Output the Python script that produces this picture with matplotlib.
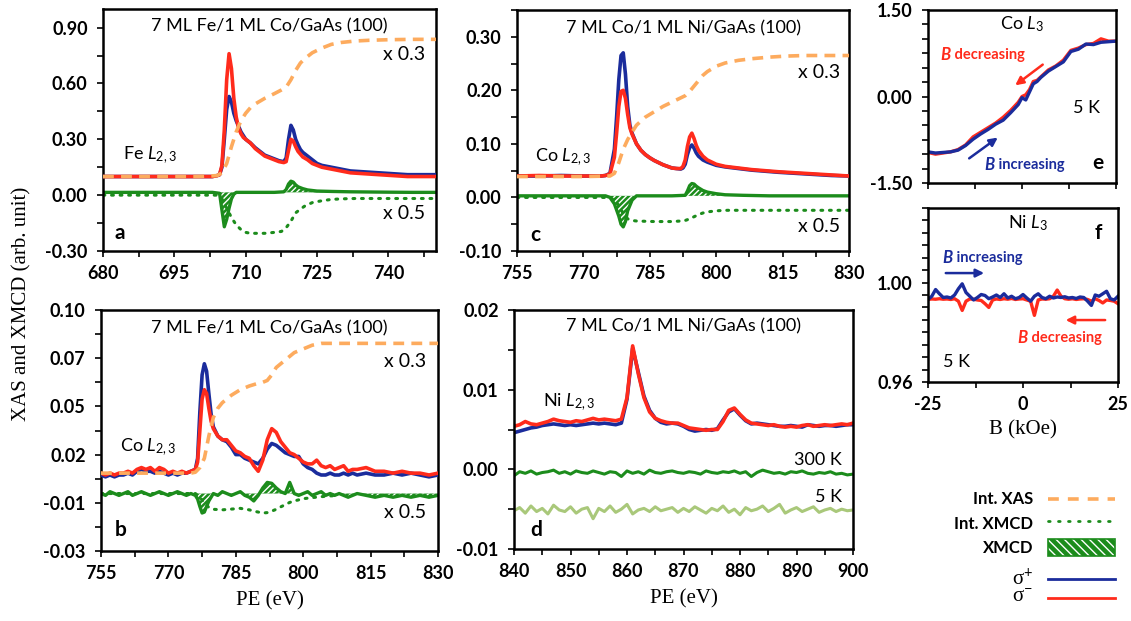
import matplotlib
matplotlib.use('Agg')
import matplotlib.pyplot as plt
import matplotlib.patches as mpatches
from matplotlib.ticker import FixedLocator

# ---- panel a : Fe L2,3 (7 ML Fe / 1 ML Co / GaAs)
a_pe = [680, 684, 688, 692, 696, 700, 703, 704, 704.5, 705, 705.5, 706, 706.5, 707, 707.5, 708, 708.5, 709, 709.5,
        710, 711, 712, 713, 714, 715, 716, 717, 718, 718.5, 719, 719.5, 720, 720.5, 721, 721.5, 722, 723, 724, 725,
        726, 728, 730, 732, 735, 738, 741, 744, 747, 750]
a_sigma_plus = [0.10, 0.10, 0.10, 0.10, 0.10, 0.10, 0.10, 0.105, 0.11, 0.15, 0.30, 0.46, 0.53, 0.50, 0.44, 0.40, 0.37,
                0.34, 0.32, 0.30, 0.28, 0.255, 0.235, 0.215, 0.205, 0.195, 0.185, 0.18, 0.20, 0.30, 0.375, 0.35, 0.30,
                0.27, 0.245, 0.23, 0.21, 0.19, 0.17, 0.16, 0.15, 0.14, 0.13, 0.125, 0.12, 0.115, 0.11, 0.11, 0.11]
a_sigma_minus = [0.10, 0.10, 0.10, 0.10, 0.10, 0.10, 0.10, 0.105, 0.11, 0.16, 0.35, 0.62, 0.76, 0.68, 0.52, 0.42, 0.36,
                 0.33, 0.31, 0.30, 0.28, 0.25, 0.23, 0.21, 0.20, 0.19, 0.18, 0.175, 0.18, 0.24, 0.30, 0.29, 0.26,
                 0.235, 0.22, 0.205, 0.19, 0.17, 0.16, 0.15, 0.14, 0.13, 0.12, 0.115, 0.11, 0.105, 0.10, 0.10, 0.10]
a_pe_int = [680, 690, 700, 704, 705, 706, 707, 708, 709, 710, 711, 712, 714, 716, 717.5, 718.5, 719.5, 720.5, 721.5,
            722.5, 724, 726, 728, 730, 733, 736, 740, 745, 750]
a_int_xas = [0.10, 0.10, 0.10, 0.105, 0.12, 0.17, 0.26, 0.34, 0.40, 0.44, 0.47, 0.49, 0.52, 0.545, 0.565, 0.58, 0.62,
             0.67, 0.71, 0.735, 0.765, 0.79, 0.81, 0.82, 0.828, 0.832, 0.835, 0.837, 0.837]
a_int_xmcd = [0.0, 0.0, 0.0, 0.0, -0.02, -0.07, -0.12, -0.16, -0.185, -0.20, -0.205, -0.205, -0.205, -0.2, -0.195,
              -0.175, -0.14, -0.095, -0.075, -0.057, -0.04, -0.03, -0.023, -0.02, -0.018, -0.018, -0.018, -0.018, -0.018]
a_pe_xmcd = [680, 684, 688, 692, 696, 700, 703, 704.5, 705, 705.5, 706, 706.5, 707, 707.5, 708, 709, 712, 716, 718,
             718.5, 719, 719.5, 720, 720.5, 721, 722, 723, 725, 728, 732, 736, 740, 745, 750]
a_xmcd = [0.015, 0.015, 0.015, 0.015, 0.015, 0.015, 0.015, 0.01, -0.08, -0.17, -0.13, -0.07, -0.02, 0.005, 0.015,
          0.015, 0.015, 0.015, 0.018, 0.03, 0.06, 0.075, 0.07, 0.055, 0.045, 0.035, 0.028, 0.022, 0.02, 0.018, 0.017,
          0.016, 0.015, 0.015]

# ---- panel b : Co L2,3 (7 ML Fe / 1 ML Co / GaAs)
b_pe = [755, 756, 757, 758, 759, 760, 761, 762, 763, 764, 765, 766, 767, 768, 769, 770, 771, 772, 773, 774, 775, 776,
        776.5, 777, 777.5, 778, 778.5, 779, 779.5, 780, 781, 782, 783, 784, 785, 786, 787, 788, 789, 790, 791, 792,
        793, 794, 795, 796, 797, 798, 799, 800, 801, 802, 803, 804, 805, 806, 807, 808, 809, 810, 811, 812, 814, 816,
        818, 820, 822, 824, 826, 828, 830]
b_sigma_plus = [0.011, 0.010, 0.011, 0.010, 0.011, 0.011, 0.012, 0.011, 0.013, 0.014, 0.013, 0.013, 0.012, 0.013,
                0.012, 0.011, 0.012, 0.011, 0.012, 0.012, 0.013, 0.014, 0.020, 0.045, 0.065, 0.071, 0.067, 0.055,
                0.044, 0.037, 0.032, 0.030, 0.029, 0.026, 0.022, 0.022, 0.020, 0.019, 0.018, 0.017, 0.020, 0.025,
                0.028, 0.027, 0.025, 0.023, 0.022, 0.021, 0.021, 0.017, 0.015, 0.014, 0.012, 0.011, 0.011, 0.012,
                0.011, 0.011, 0.012, 0.011, 0.012, 0.011, 0.012, 0.011, 0.011, 0.012, 0.011, 0.012, 0.011, 0.010,
                0.011]
b_sigma_minus = [0.012, 0.011, 0.012, 0.011, 0.012, 0.012, 0.013, 0.012, 0.014, 0.015, 0.014, 0.015, 0.013, 0.015,
                 0.014, 0.012, 0.013, 0.012, 0.013, 0.012, 0.013, 0.014, 0.018, 0.035, 0.052, 0.057, 0.055, 0.047,
                 0.040, 0.036, 0.032, 0.030, 0.030, 0.027, 0.024, 0.023, 0.021, 0.020, 0.016, 0.013, 0.019, 0.030,
                 0.036, 0.034, 0.029, 0.026, 0.023, 0.022, 0.020, 0.018, 0.017, 0.017, 0.019, 0.016, 0.015, 0.016,
                 0.014, 0.015, 0.016, 0.013, 0.014, 0.014, 0.015, 0.013, 0.013, 0.012, 0.013, 0.012, 0.012, 0.011,
                 0.012]
b_xmcd = [0.001, 0.000, 0.002, 0.001, 0.000, 0.001, 0.002, 0.000, 0.001, 0.002, 0.001, 0.000, 0.001, 0.002, 0.001,
          0.000, 0.001, 0.002, 0.001, 0.000, 0.001, 0.000, -0.002, -0.006, -0.0095, -0.009, -0.006, -0.003, -0.001,
          0.001, 0.000, 0.002, 0.001, 0.000, 0.001, 0.002, 0.000, -0.001, -0.003, 0.000, 0.004, 0.007, 0.0065,
          0.004, 0.002, 0.001, 0.007, 0.001, 0.000, 0.001, 0.002, 0.000, 0.001, 0.002, 0.000, 0.001, 0.000, 0.001,
          0.000, -0.001, 0.000, 0.001, 0.000, -0.001, 0.000, -0.001, 0.000, -0.001, 0.000, -0.001, 0.000]
b_pe_int = [755, 765, 775, 776, 777, 778, 779, 780, 781, 782, 784, 786, 788, 790, 791, 792, 793, 794, 795, 796, 797,
            798, 800, 802, 804, 806, 810, 820, 830]
b_int_xas = [0.012, 0.012, 0.012, 0.0125, 0.015, 0.020, 0.032, 0.042, 0.047, 0.050, 0.054, 0.057, 0.059, 0.0605,
             0.061, 0.062, 0.065, 0.069, 0.071, 0.073, 0.075, 0.077, 0.079, 0.081, 0.082, 0.082, 0.082, 0.082, 0.082]
b_pe_int_xmcd = [755, 770, 776, 777, 778, 779, 780, 782, 784, 786, 788, 789, 790, 791, 792, 793, 794, 795, 796, 797,
                 798, 800, 802, 804, 806, 808]
b_int_xmcd = [0.001, 0.001, 0.001, -0.001, -0.004, -0.0065, -0.0075, -0.0078, -0.0074, -0.007, -0.0078, -0.0085,
              -0.009, -0.0095, -0.0093, -0.0085, -0.0075, -0.0062, -0.005, -0.0038, -0.003, -0.0018, -0.0012,
              -0.0007, -0.0003, 0.0]

# ---- panel c : Co L2,3 (7 ML Co / 1 ML Ni / GaAs)
c_pe = [755, 760, 765, 770, 774, 775, 776, 777, 777.5, 778, 778.5, 779, 779.5, 780, 780.5, 781, 782, 783, 784, 785,
        786, 787, 788, 789, 790, 791, 792, 792.5, 793, 793.5, 794, 794.5, 795, 795.5, 796, 797, 798, 799, 800, 802,
        804, 806, 808, 811, 814, 818, 822, 826, 830]
c_sigma_plus = [0.040, 0.040, 0.041, 0.040, 0.040, 0.041, 0.045, 0.09, 0.15, 0.22, 0.265, 0.27, 0.23, 0.17, 0.135,
                0.12, 0.10, 0.088, 0.08, 0.074, 0.069, 0.065, 0.061, 0.058, 0.055, 0.054, 0.053, 0.055, 0.062, 0.08,
                0.093, 0.098, 0.092, 0.083, 0.077, 0.070, 0.066, 0.063, 0.060, 0.057, 0.055, 0.053, 0.051, 0.049,
                0.047, 0.045, 0.043, 0.041, 0.040]
c_sigma_minus = [0.040, 0.041, 0.040, 0.040, 0.040, 0.041, 0.044, 0.075, 0.12, 0.17, 0.198, 0.20, 0.185, 0.155,
                 0.13, 0.118, 0.10, 0.088, 0.08, 0.074, 0.069, 0.065, 0.061, 0.058, 0.055, 0.054, 0.054, 0.058, 0.07,
                 0.095, 0.113, 0.12, 0.11, 0.097, 0.088, 0.077, 0.070, 0.066, 0.062, 0.058, 0.056, 0.054, 0.052,
                 0.050, 0.048, 0.046, 0.044, 0.042, 0.040]
c_pe_int = [755, 770, 776, 777, 778, 779, 780, 781, 782, 784, 786, 788, 790, 792, 793, 794, 795, 796, 797, 798, 800,
            802, 805, 808, 812, 816, 820, 825, 830]
c_int_xas = [0.039, 0.039, 0.040, 0.045, 0.065, 0.09, 0.108, 0.122, 0.135, 0.150, 0.160, 0.170, 0.178, 0.186, 0.190,
             0.198, 0.208, 0.218, 0.228, 0.235, 0.245, 0.251, 0.256, 0.259, 0.262, 0.264, 0.265, 0.265, 0.265]
c_pe_xmcd = [755, 765, 775, 776, 777, 778, 778.5, 779, 779.5, 780, 781, 782, 790, 793, 793.5, 794, 794.5, 795, 795.5,
             796, 797, 798, 800, 802, 806, 812, 820, 830]
c_xmcd = [0.003, 0.003, 0.003, 0.0, -0.012, -0.035, -0.05, -0.055, -0.045, -0.025, -0.005, 0.003, 0.003, 0.004,
          0.012, 0.022, 0.026, 0.025, 0.021, 0.018, 0.013, 0.01, 0.007, 0.005, 0.004, 0.003, 0.003, 0.003]
c_pe_int_xmcd = [755, 776, 777, 778, 779, 780, 781, 782, 786, 790, 792, 793, 794, 795, 796, 797, 798, 800, 802, 806,
                 812, 820, 830]
c_int_xmcd = [0.0, 0.0, -0.005, -0.015, -0.03, -0.04, -0.043, -0.044, -0.045, -0.045, -0.044, -0.043, -0.04, -0.036,
              -0.032, -0.029, -0.027, -0.025, -0.024, -0.024, -0.024, -0.024, -0.024]

# ---- panel d : Ni L2,3 (7 ML Co / 1 ML Ni / GaAs)
d_pe = [840, 841, 842, 843, 844, 845, 846, 847, 848, 849, 850, 851, 852, 853, 854, 855, 856, 857, 858, 859, 860, 861,
        862, 863, 864, 865, 866, 867, 868, 869, 870, 871, 872, 873, 874, 875, 876, 877, 878, 879, 880, 881, 882, 883,
        884, 885, 886, 887, 888, 889, 890, 891, 892, 893, 894, 895, 896, 897, 898, 899, 900]
d_sigma_plus = [0.0046, 0.0048, 0.0050, 0.0052, 0.0053, 0.0055, 0.0056, 0.0057, 0.0056, 0.0055, 0.0056, 0.0055,
                0.0056, 0.0057, 0.0058, 0.0057, 0.0058, 0.0057, 0.0056, 0.0058, 0.0088, 0.0152, 0.0122, 0.0092,
                0.0074, 0.0064, 0.0059, 0.0057, 0.0058, 0.0057, 0.0054, 0.0050, 0.0048, 0.0049, 0.0050, 0.0049,
                0.0051, 0.0062, 0.0072, 0.0076, 0.0068, 0.0061, 0.0057, 0.0058, 0.0057, 0.0056, 0.0055, 0.0054,
                0.0054, 0.0055, 0.0054, 0.0053, 0.0056, 0.0055, 0.0054, 0.0055, 0.0055, 0.0054, 0.0055, 0.0056,
                0.0056]
d_sigma_minus = [0.0054, 0.0056, 0.0060, 0.0057, 0.0056, 0.0058, 0.0060, 0.0063, 0.0061, 0.0060, 0.0059, 0.0061,
                 0.0060, 0.0062, 0.0064, 0.0062, 0.0063, 0.0062, 0.0061, 0.0063, 0.0090, 0.0155, 0.0120, 0.0090,
                 0.0072, 0.0064, 0.0061, 0.0059, 0.0058, 0.0058, 0.0055, 0.0052, 0.0051, 0.0050, 0.0049, 0.0050,
                 0.0050, 0.0060, 0.0074, 0.0077, 0.0069, 0.0062, 0.0058, 0.0057, 0.0056, 0.0055, 0.0056, 0.0054,
                 0.0053, 0.0054, 0.0053, 0.0055, 0.0056, 0.0054, 0.0055, 0.0056, 0.0055, 0.0056, 0.0057, 0.0056,
                 0.0058]
d_xmcd_300k = [-0.0008, -0.0003, -0.0005, -0.0002, -0.0006, -0.0004, -0.0003, -0.0001, -0.0005, -0.0003, -0.0006,
               -0.0002, -0.0004, -0.0005, -0.0002, -0.0004, -0.0006, -0.0003, -0.0004, -0.0009, -0.0002, -0.0005,
               -0.0003, -0.0006, -0.0001, -0.0004, -0.0005, -0.0003, -0.0002, -0.0004, -0.0005, -0.0003, -0.0004,
               -0.0006, -0.0002, -0.0004, -0.0005, -0.0003, -0.0004, -0.0002, -0.0005, -0.0003, -0.0009, -0.0004,
               -0.0001, -0.0003, -0.0005, -0.0004, -0.0006, -0.0003, -0.0004, -0.0002, -0.0005, -0.0006, -0.0004,
               -0.0005, -0.0003, -0.0006, -0.0005, -0.0007, -0.0006]
d_xmcd_5k = [-0.0052, -0.0048, -0.0055, -0.0046, -0.0053, -0.0049, -0.0056, -0.0045, -0.0051, -0.0053, -0.0047,
             -0.0055, -0.0050, -0.0048, -0.0062, -0.0049, -0.0053, -0.0046, -0.0054, -0.0050, -0.0044, -0.0056,
             -0.0051, -0.0049, -0.0053, -0.0047, -0.0052, -0.0050, -0.0048, -0.0054, -0.0049, -0.0053, -0.0047,
             -0.0051, -0.0055, -0.0049, -0.0052, -0.0046, -0.0054, -0.0050, -0.0057, -0.0048, -0.0052, -0.0050,
             -0.0046, -0.0053, -0.0049, -0.0044, -0.0055, -0.0051, -0.0048, -0.0053, -0.0050, -0.0047, -0.0054,
             -0.0051, -0.0049, -0.0053, -0.0050, -0.0052, -0.0051]

# ---- panel e : Co L3 hysteresis at 5 K
e_field = [-25, -23, -21, -19, -17, -15, -13, -11, -9, -7, -5, -3, -1, 0, 1, 2, 3, 4, 5, 7, 9, 11, 13, 15, 17, 19, 21,
           23, 25]
e_increasing = [-0.96, -0.98, -0.97, -0.96, -0.93, -0.85, -0.74, -0.65, -0.57, -0.48, -0.41, -0.28, -0.14, -0.02,
                -0.06, 0.08, 0.22, 0.26, 0.33, 0.44, 0.52, 0.60, 0.78, 0.82, 0.91, 0.90, 0.94, 0.95, 0.96]
e_decreasing = [-0.97, -1.0, -0.98, -0.96, -0.92, -0.84, -0.70, -0.62, -0.54, -0.46, -0.36, -0.24, -0.10, 0.00, 0.03,
                0.12, 0.26, 0.28, 0.34, 0.46, 0.53, 0.63, 0.80, 0.84, 0.90, 0.92, 1.0, 0.96, 0.96]

# ---- panel f : Ni L3 at 5 K
f_field = [-25, -24, -23, -22, -21, -20, -19, -18, -17, -16, -15, -14, -13, -12, -11, -10, -9, -8, -7, -6, -5, -4, -3,
           -2, -1, 0, 1, 2, 3, 4, 5, 6, 7, 8, 9, 10, 11, 12, 13, 14, 15, 16, 17, 18, 19, 20, 21, 22, 23, 24, 25]
f_increasing = [0.9932, 0.9945, 0.9972, 0.9955, 0.9940, 0.9942, 0.9938, 0.9950, 0.9975, 0.9995, 0.9960, 0.9945,
                0.9930, 0.9940, 0.9952, 0.9948, 0.9935, 0.9942, 0.9950, 0.9940, 0.9955, 0.9938, 0.9945, 0.9935,
                0.9940, 0.9952, 0.9938, 0.9925, 0.9945, 0.9955, 0.9940, 0.9935, 0.9945, 0.9938, 0.9942, 0.9940,
                0.9943, 0.9938, 0.9940, 0.9936, 0.9942, 0.9940, 0.9925, 0.9908, 0.9950, 0.9945, 0.9955, 0.9965,
                0.9935, 0.9930, 0.9945]
f_decreasing = [0.9932, 0.9934, 0.9933, 0.9935, 0.9933, 0.9934, 0.9932, 0.9935, 0.9925, 0.9888, 0.9925, 0.9934,
                0.9933, 0.9930, 0.9928, 0.9915, 0.9900, 0.9930, 0.9934, 0.9932, 0.9935, 0.9933, 0.9936, 0.9932,
                0.9934, 0.9935, 0.9930, 0.9925, 0.9868, 0.9930, 0.9934, 0.9933, 0.9935, 0.9945, 0.9970, 0.9945,
                0.9935, 0.9933, 0.9935, 0.9932, 0.9934, 0.9935, 0.9932, 0.9925, 0.9935, 0.9928, 0.9918, 0.9930,
                0.9928, 0.9925, 0.9915]

BLUE = '#1b2c9c'
RED = '#ff2b1c'
ORANGE = '#fdab5e'
GREEN = '#1c8c1c'
LIGHTGREEN = '#a9c87a'
W, H = 1131, 621

plt.rcParams['font.family'] = ['Lato', 'DejaVu Sans']
plt.rcParams['axes.unicode_minus'] = False
plt.rcParams['mathtext.fontset'] = 'custom'
plt.rcParams['mathtext.rm'] = 'Lato'
plt.rcParams['mathtext.it'] = 'Lato:italic'
plt.rcParams['hatch.linewidth'] = 1.0


def px_axes(fig, left, top, right, bottom):
    return fig.add_axes([left / W, 1 - bottom / H, (right - left) / W, (bottom - top) / H])


def midpoints(vals):
    return [(vals[i] + vals[i + 1]) / 2 for i in range(len(vals) - 1)]


def setup(ax, xlim, xt, xlab, ylim, yt, ylab):
    ax.set_xticks(xt, labels=xlab, fontweight='bold', fontsize=13)
    ax.set_yticks(yt, labels=ylab, fontweight='bold', fontsize=13)
    ax.xaxis.set_minor_locator(FixedLocator(midpoints(sorted(xt))))
    ax.yaxis.set_minor_locator(FixedLocator(midpoints(sorted(yt))))
    # limits after the ticks, set_ticks widens the view otherwise
    ax.set_xlim(xlim)
    ax.set_ylim(ylim)
    ax.tick_params(which='both', direction='out', length=4, width=1.2, top=False, right=False)
    ax.tick_params(axis='x', pad=6)
    ax.tick_params(axis='y', pad=7)
    for s in ax.spines.values():
        s.set_linewidth(1.8)


def spectrum(ax, pe, plus, minus, pe_int, int_xas, pe_x, xmcd, base, pe_ix, int_xmcd):
    ax.fill_between(pe_x, base, xmcd, facecolor=GREEN, edgecolor='white', hatch='//////', linewidth=0, zorder=1)
    ax.plot(pe_x, xmcd, color=GREEN, lw=2.4, zorder=2)
    ax.plot(pe_ix, int_xmcd, color=GREEN, lw=2.2, ls=(0, (0.6, 2.2)), dash_capstyle='round', zorder=2)
    ax.plot(pe, plus, color=BLUE, lw=2.6, zorder=3)
    ax.plot(pe, minus, color=RED, lw=2.6, zorder=4)
    ax.plot(pe_int, int_xas, color=ORANGE, lw=2.6, ls=(0, (3, 2)), zorder=5)


def txt(ax, x, y, s, **kw):
    kw.setdefault('fontsize', 13)
    ax.text(x, y, s, transform=ax.transAxes, **kw)


def bfield_label(ax, x, y, word, color):
    # bold italic B followed by the word, x is where the two meet
    txt(ax, x, y, 'B', ha='right', va='center', color=color, fontweight='bold', style='italic', fontsize=12)
    txt(ax, x, y, ' ' + word, ha='left', va='center', color=color, fontweight='bold', fontsize=10.5)


def main():
    fig = plt.figure(figsize=(W / 100, H / 100), dpi=100)

    # a
    ax = px_axes(fig, 103, 9, 436, 251)
    spectrum(ax, a_pe, a_sigma_plus, a_sigma_minus, a_pe_int, a_int_xas, a_pe_xmcd, a_xmcd, 0.015,
             a_pe_int, a_int_xmcd)
    setup(ax, (680, 750), [680, 695, 710, 725, 740, 755], ['680', '695', '710', '725', '740', ''],
          (-0.3, 1.0), [-0.3, 0.0, 0.3, 0.6, 0.9, 1.2], ['-0.30', '0.00', '0.30', '0.60', '0.90', ''])
    txt(ax, 0.5, 0.93, '7 ML Fe/1 ML Co/GaAs (100)', ha='center', va='center')
    txt(ax, 0.06, 0.397, r'Fe $\mathit{L}_{2,3}$', ha='left', va='center')
    txt(ax, 0.967, 0.81, 'x 0.3', ha='right', va='center', fontsize=14)
    txt(ax, 0.967, 0.157, 'x 0.5', ha='right', va='center', fontsize=14)
    txt(ax, 0.036, 0.074, 'a', ha='left', va='center', fontweight='bold', fontsize=15)

    # b
    ax = px_axes(fig, 101, 310, 438, 551)
    spectrum(ax, b_pe, b_sigma_plus, b_sigma_minus, b_pe_int, b_int_xas, b_pe, b_xmcd, 0.001,
             b_pe_int_xmcd, b_int_xmcd)
    setup(ax, (755, 830), [755, 770, 785, 800, 815, 830], ['755', '770', '785', '800', '815', '830'],
          (-0.03, 0.10), [-0.03, -0.004, 0.022, 0.048, 0.074, 0.10],
          ['-0.03', '-0.01', '0.02', '0.05', '0.07', '0.10'])
    ax.set_xlabel('PE (eV)', family='Liberation Serif', fontsize=15, labelpad=7)
    txt(ax, 0.5, 0.925, '7 ML Fe/1 ML Co/GaAs (100)', ha='center', va='center')
    txt(ax, 0.056, 0.43, r'Co $\mathit{L}_{2,3}$', ha='left', va='center')
    txt(ax, 0.964, 0.788, 'x 0.3', ha='right', va='center', fontsize=14)
    txt(ax, 0.964, 0.16, 'x 0.5', ha='right', va='center', fontsize=14)
    txt(ax, 0.042, 0.087, 'b', ha='left', va='center', fontweight='bold', fontsize=15)

    # c
    ax = px_axes(fig, 517, 10, 849, 251)
    spectrum(ax, c_pe, c_sigma_plus, c_sigma_minus, c_pe_int, c_int_xas, c_pe_xmcd, c_xmcd, 0.003,
             c_pe_int_xmcd, c_int_xmcd)
    setup(ax, (755, 830), [755, 770, 785, 800, 815, 830], ['755', '770', '785', '800', '815', '830'],
          (-0.1, 0.35), [-0.1, 0.0, 0.1, 0.2, 0.3, 0.4], ['-0.10', '0.00', '0.10', '0.20', '0.30', ''])
    txt(ax, 0.5, 0.925, '7 ML Co/1 ML Ni/GaAs (100)', ha='center', va='center')
    txt(ax, 0.054, 0.39, r'Co $\mathit{L}_{2,3}$', ha='left', va='center')
    txt(ax, 0.973, 0.74, 'x 0.3', ha='right', va='center', fontsize=14)
    txt(ax, 0.973, 0.1, 'x 0.5', ha='right', va='center', fontsize=14)
    txt(ax, 0.04, 0.066, 'c', ha='left', va='center', fontweight='bold', fontsize=15)

    # d
    ax = px_axes(fig, 514, 310, 853, 549)
    ax.plot(d_pe, d_xmcd_5k, color=LIGHTGREEN, lw=2.2)
    ax.plot(d_pe, d_xmcd_300k, color=GREEN, lw=2.2)
    ax.plot(d_pe, d_sigma_plus, color=BLUE, lw=2.6)
    ax.plot(d_pe, d_sigma_minus, color=RED, lw=2.6)
    setup(ax, (840, 900), [840, 850, 860, 870, 880, 890, 900], ['840', '850', '860', '870', '880', '890', '900'],
          (-0.01, 0.02), [-0.01, 0.0, 0.01, 0.02], ['-0.01', '0.00', '0.01', '0.02'])
    ax.set_xlabel('PE (eV)', family='Liberation Serif', fontsize=15, labelpad=7)
    txt(ax, 0.5, 0.93, '7 ML Co/1 ML Ni/GaAs (100)', ha='center', va='center')
    txt(ax, 0.085, 0.615, r'Ni $\mathit{L}_{2,3}$', ha='left', va='center')
    txt(ax, 0.967, 0.372, '300 K', ha='right', va='center')
    txt(ax, 0.967, 0.218, '5 K', ha='right', va='center')
    txt(ax, 0.047, 0.08, 'd', ha='left', va='center', fontweight='bold', fontsize=15)

    # e
    ax = px_axes(fig, 928, 10, 1116, 183)
    ax.plot(e_field, e_decreasing, color=RED, lw=2.4)
    ax.plot(e_field, e_increasing, color=BLUE, lw=2.4)
    setup(ax, (-25, 25), [-25, 0, 25], ['', '', ''], (-1.5, 1.5), [-1.5, -1.0, -0.5, 0.0, 0.5, 1.0, 1.5],
          ['-1.50', '', '', '0.00', '', '', '1.50'])
    txt(ax, 0.5, 0.92, r'Co $\mathit{L}_{3}$', ha='center', va='center')
    bfield_label(ax, 0.122, 0.74, 'decreasing', RED)
    bfield_label(ax, 0.356, 0.104, 'increasing', BLUE)
    txt(ax, 0.771, 0.434, '5 K', ha='left', va='center')
    txt(ax, 0.904, 0.116, 'e', ha='center', va='center', fontweight='bold', fontsize=15)
    ax.annotate('', xy=(0.452, 0.555), xytext=(0.622, 0.694), xycoords='axes fraction',
                arrowprops=dict(arrowstyle='-|>', color=RED, lw=1.8, mutation_scale=12))
    ax.annotate('', xy=(0.383, 0.272), xytext=(0.207, 0.133), xycoords='axes fraction',
                arrowprops=dict(arrowstyle='-|>', color=BLUE, lw=1.8, mutation_scale=12))

    # f
    ax = px_axes(fig, 928, 208, 1118, 382)
    ax.plot(f_field, f_decreasing, color=RED, lw=2.4)
    ax.plot(f_field, f_increasing, color=BLUE, lw=2.4)
    setup(ax, (-25, 25), [-25, 0, 25], ['-25', '0', '25'], (0.96, 1.03),
          [0.96, 0.97, 0.98, 0.99, 1.00, 1.01, 1.02, 1.03], ['0.96', '', '', '', '1.00', '', '', ''])
    ax.set_xlabel('B (kOe)', family='Liberation Serif', fontsize=15, labelpad=5)
    txt(ax, 0.526, 0.914, r'Ni $\mathit{L}_{3}$', ha='center', va='center')
    txt(ax, 0.895, 0.856, 'f', ha='center', va='center', fontweight='bold', fontsize=15)
    bfield_label(ax, 0.13, 0.713, 'increasing', BLUE)
    bfield_label(ax, 0.526, 0.253, 'decreasing', RED)
    txt(ax, 0.079, 0.115, '5 K', ha='left', va='center')
    ax.annotate('', xy=(0.31, 0.626), xytext=(0.079, 0.626), xycoords='axes fraction',
                arrowprops=dict(arrowstyle='-|>', color=BLUE, lw=1.8, mutation_scale=12))
    ax.annotate('', xy=(0.71, 0.356), xytext=(0.947, 0.356), xycoords='axes fraction',
                arrowprops=dict(arrowstyle='-|>', color=RED, lw=1.8, mutation_scale=12))

    # shared y label
    fig.text(22 / W, 1 - 304 / H, 'XAS and XMCD (arb. unit)', rotation=90, ha='center', va='center',
             family='Liberation Serif', fontsize=15)

    # legend box drawn in figure pixel space
    ov = fig.add_axes([0, 0, 1, 1], zorder=-1)
    ov.set_xlim(0, W)
    ov.set_ylim(H, 0)
    ov.axis('off')
    ov.plot([1048, 1115], [499, 499], color=ORANGE, lw=2.6, ls=(0, (3, 2.5)))
    ov.plot([1048, 1115], [521, 521], color=GREEN, lw=2, ls=(0, (0.6, 3)), dash_capstyle='round')
    ov.add_patch(mpatches.Rectangle((1048, 539), 67, 17, facecolor=GREEN, edgecolor='white',
                                    hatch='\\\\\\\\', linewidth=0))
    ov.add_patch(mpatches.Rectangle((1048, 539), 67, 17, facecolor='none', edgecolor=GREEN, linewidth=1.2))
    ov.plot([1048, 1115], [579, 579], color=BLUE, lw=2)
    ov.plot([1048, 1115], [598, 598], color=RED, lw=2)
    ov.text(1033, 499, 'Int. XAS', ha='right', va='center', fontweight='bold', fontsize=12)
    ov.text(1033, 524, 'Int. XMCD', ha='right', va='center', fontweight='bold', fontsize=12)
    ov.text(1033, 548, 'XMCD', ha='right', va='center', fontweight='bold', fontsize=12)
    ov.text(1033, 580, 'σ$^{+}$', ha='right', va='center', family='Liberation Serif', fontsize=15)
    ov.text(1033, 598, 'σ$^{-}$', ha='right', va='center', family='Liberation Serif', fontsize=15)

    fig.savefig('out.png', dpi=100)


if __name__ == "__main__":
    main()
